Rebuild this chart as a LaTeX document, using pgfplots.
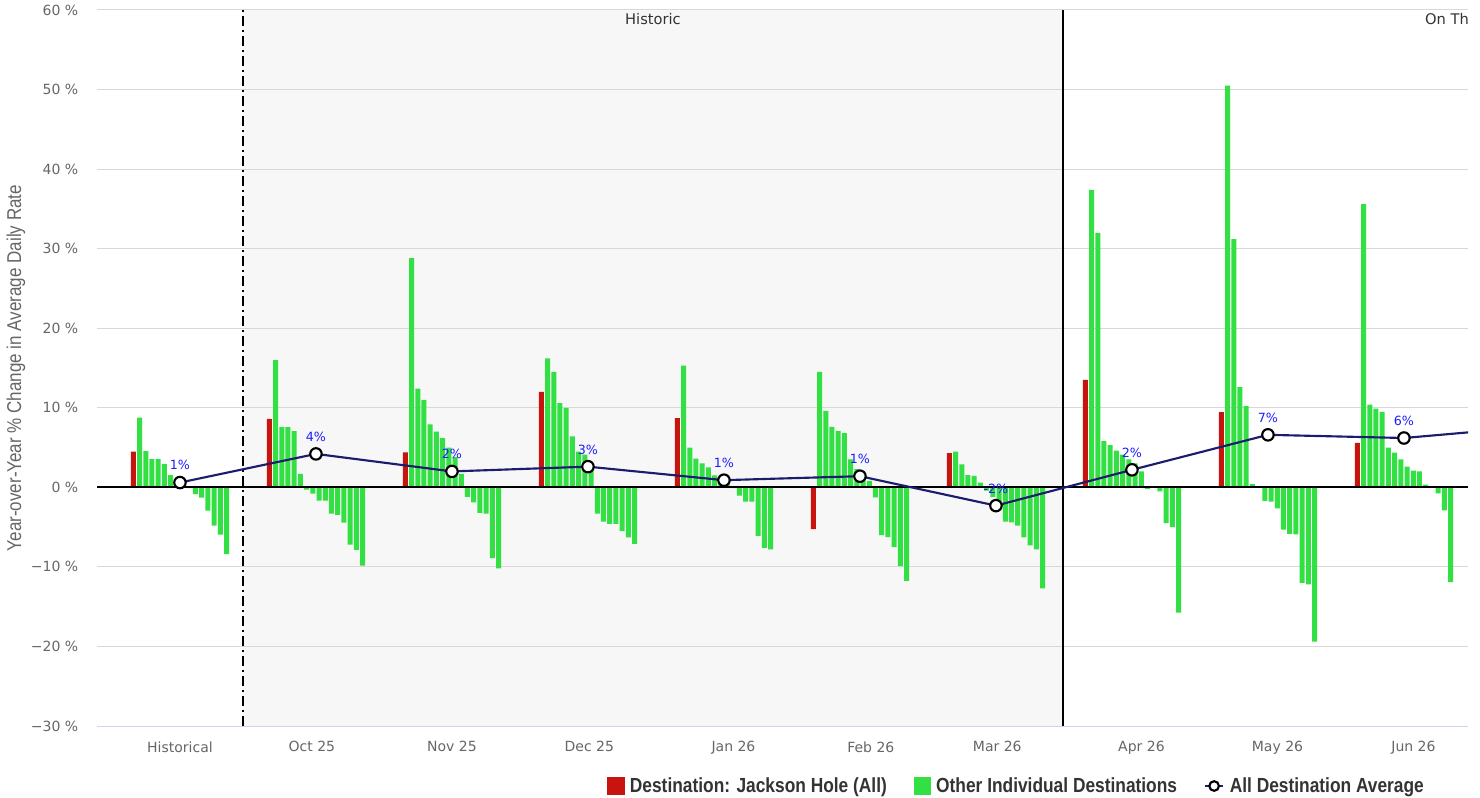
\documentclass[border=0pt]{standalone}
\usepackage{pgfplots}
\pgfplotsset{compat=1.18}
\usepackage{pgfplotstable}
\usepackage{fontspec}
\setmainfont{DejaVu Sans}
\newfontfamily\condfont[FakeStretch=0.85]{Liberation Sans}

\definecolor{jhred}{HTML}{C8140E}
\definecolor{othgreen}{HTML}{33E043}
\definecolor{avgnavy}{HTML}{1C1C6E}
\definecolor{lblblue}{HTML}{1E1EFF}
\definecolor{tickgray}{HTML}{666666}
\definecolor{legtext}{HTML}{333333}
\definecolor{gridgray}{HTML}{D8D8D8}
\definecolor{axisline}{HTML}{CCD6EB}
\definecolor{shadegray}{HTML}{F7F7F7}

\pgfplotstableread{
x r g1 g2 g3 g4 g5 g6 g7 g8 g9 g10 g11 g12 g13 g14 g15
0 4.5 8.75 4.56 3.56 3.56 2.93 1.55 0.3 0.0 -0.1 -0.84 -1.3 -2.94 -4.8 -5.95 -8.38
1 8.6 16.0 7.58 7.58 7.08 1.68 -0.3 -0.8 -1.68 -1.68 -3.3 -3.45 -4.45 -7.2 -7.85 -9.85
2 4.4 28.8 12.4 11.0 7.9 7.0 6.2 5.0 3.8 1.7 -1.2 -1.9 -3.2 -3.3 -8.9 -10.2
3 12.0 16.2 14.5 10.6 10.0 6.4 4.5 4.1 2.8 -3.3 -4.3 -4.6 -4.6 -5.5 -6.3 -7.1
4 8.7 15.3 5.0 3.6 3.0 2.5 1.5 1.2 0.5 -0.1 -1.05 -1.8 -1.8 -6.1 -7.6 -7.8
5 -5.25 14.5 9.6 7.6 7.1 6.8 3.5 2.3 1.5 0.8 -1.25 -6.0 -6.25 -7.5 -9.9 -11.75
6 4.3 4.5 2.9 1.55 1.45 0.6 -0.4 -1.2 -2.6 -4.3 -4.4 -4.8 -6.3 -7.3 -7.8 -12.7
7 13.5 37.4 32.0 5.8 5.3 4.6 4.1 3.5 3.0 2.0 -0.2 0.0 -0.5 -4.5 -5.0 -15.75
8 9.45 50.5 31.2 12.6 10.2 0.4 0.0 -1.7 -1.8 -2.65 -5.3 -5.85 -5.9 -12.0 -12.2 -19.4
9 5.6 35.6 10.4 9.9 9.5 5.0 4.35 3.5 2.6 2.1 2.0 0.35 0.0 -0.75 -2.9 -11.9
}\bardata

\begin{document}
\begin{tikzpicture}
\begin{axis}[
  set layers=standard,
  at={(72.75pt,53.25pt)}, anchor=south west,
  scale only axis, width=1028.25pt, height=537pt,
  xmin=-0.610, xmax=9.471, ymin=-30, ymax=60,
  ytick={-30,-20,-10,0,10,20,30,40,50,60},
  yticklabels={−30 \%,−20 \%,−10 \%,0 \%,10 \%,20 \%,30 \%,40 \%,50 \%,60 \%},
  xtick={0,0.97,2.0,3.01,4.07,5.08,6.01,7.07,8.07,9.07},
  xticklabels={Historical,Oct 25,Nov 25,Dec 25,Jan 26,Feb 26,Mar 26,Apr 26,May 26,Jun 26},
  major tick length=0pt,
  ymajorgrids,
  grid style={color=gridgray, line width=0.75pt},
  axis line style={draw=none},
  tick label style={font=\fontsize{10.5}{12}\selectfont, text=tickgray},
  y tick label style={xshift=-10.5pt},
  x tick label style={yshift=-8pt},
  ylabel={Year-over-Year \% Change in Average Daily Rate},
  ylabel style={at={(rel axis cs:-0.0591,0.5)}, anchor=center,
    font=\condfont\fontsize{15}{17}\selectfont, text=tickgray},
  legend columns=3,
  legend cell align=left,
  legend style={at={(rel axis cs:0.372,-0.0838)}, anchor=west, draw=none, fill=none,
    inner sep=0pt,
    font=\condfont\bfseries\fontsize{15.3}{17}\selectfont, text=legtext,
    /tikz/every even column/.append style={column sep=18pt},
    /tikz/every odd column/.append style={column sep=2pt}},
]
\begin{pgfonlayer}{axis background}
\fill[shadegray] (axis cs:0.463,-30) rectangle (axis cs:6.493,60);
\end{pgfonlayer}

\addplot[ybar, bar shift=0pt, bar width=0.0368, fill=jhred, draw=none,
  legend image code/.code={\fill[jhred] (0pt,-6.5pt) rectangle (13pt,6.5pt);}]
  table[x expr=\thisrow{x}-7.5*0.0457, y=r] {\bardata};
\addlegendentry{Destination: Jackson Hole (All)}

\addplot[ybar, bar shift=0pt, bar width=0.0368, fill=othgreen, draw=none,
  legend image code/.code={\fill[othgreen] (0pt,-6.5pt) rectangle (13pt,6.5pt);}]
  table[x expr=\thisrow{x}-6.5*0.0457, y=g1] {\bardata};
\addlegendentry{Other Individual Destinations}

\pgfplotsinvokeforeach{2,...,15}{
\addplot[ybar, bar shift=0pt, bar width=0.0368, fill=othgreen, draw=none, forget plot]
  table[x expr=\thisrow{x}+(#1-7.5)*0.0457, y=g#1] {\bardata};
}

\draw[black, line width=1.5pt] (axis cs:-0.61,0) -- (axis cs:9.471,0);
\draw[axisline, line width=0.75pt] (axis cs:-0.61,-30) -- (axis cs:9.471,-30);
\draw[black, line width=1.5pt, dash pattern=on 7.5pt off 3pt on 1.5pt off 3pt]
  (axis cs:0.463,-30) -- (axis cs:0.463,60);
\draw[black, line width=1.5pt] (axis cs:6.493,-30) -- (axis cs:6.493,60);

\node[font=\fontsize{11}{13}\selectfont, text=legtext] at (axis cs:3.478,58.87) {Historic};
\node[anchor=west, inner sep=0pt, font=\fontsize{11}{13}\selectfont, text=legtext] at (axis cs:9.154,58.87) {On The Books};

\addplot[avgnavy, line width=1.6pt, mark=*, mark size=4.3pt,
  mark options={fill=white, draw=black, line width=1.6pt},
  nodes near coords, point meta=explicit symbolic,
  every node near coord/.append style={font=\fontsize{9.5}{11}\selectfont, text=lblblue, anchor=south, inner sep=0pt, yshift=8.5pt},
  legend image code/.code={\draw[avgnavy, line width=1.6pt] (0pt,0pt) -- (14pt,0pt); \draw[black, fill=white, line width=1.6pt] (7pt,0pt) circle (3.6pt);}]
  coordinates {(0,0.6) [1\%] (1,4.2) [4\%] (2,2.0) [2\%] (3,2.6) [3\%] (4,0.9) [1\%] (5,1.4) [1\%] (6,-2.3) [-2\%] (7,2.2) [2\%] (8,6.6) [7\%] (9,6.2) [6\%] (10,7.7) [8\%]};
\addlegendentry{All Destination Average}
\end{axis}
\pgfresetboundingbox
\path[use as bounding box] (0pt,0pt) rectangle (1110pt,597.75pt);
\end{tikzpicture}
\end{document}
